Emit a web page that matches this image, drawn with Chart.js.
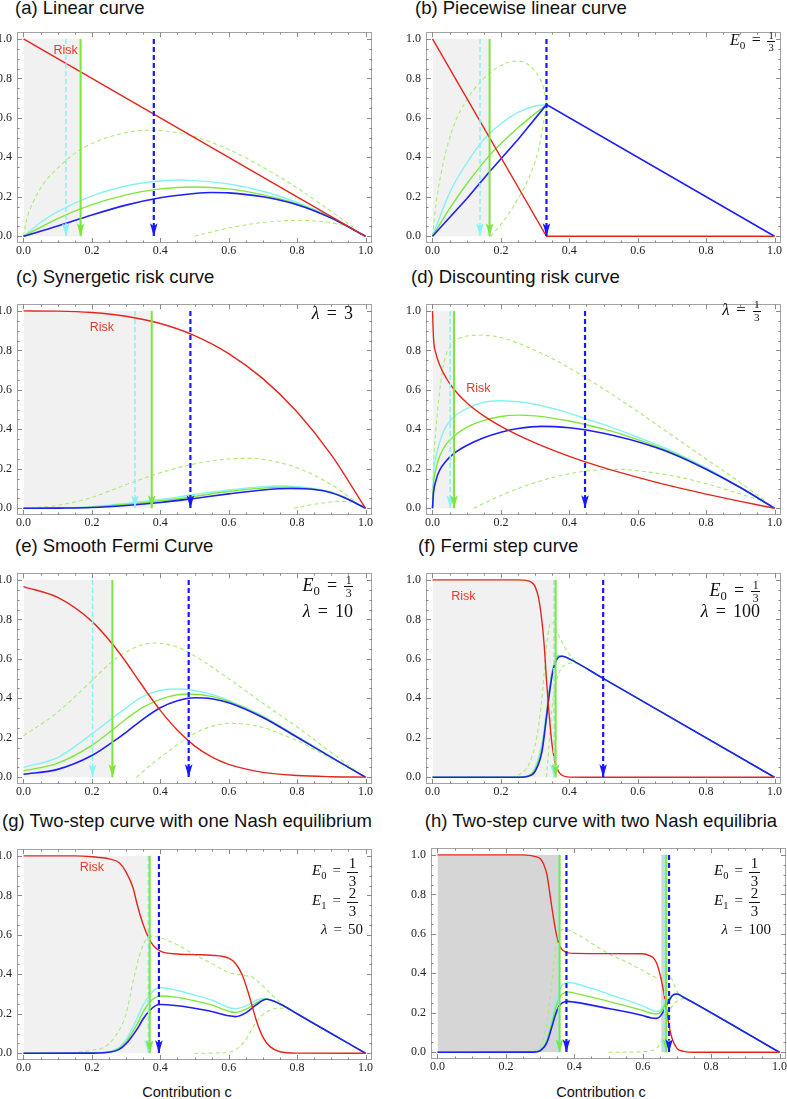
<!DOCTYPE html>
<html>
<head>
<meta charset="utf-8">
<script src="https://cdn.jsdelivr.net/npm/chart.js@4.4.1/dist/chart.umd.min.js"></script>
<style>
body{margin:0;width:787px;height:1099px;position:relative;background:#fff;overflow:hidden;font-family:"Liberation Sans",Arial,sans-serif}
canvas{position:absolute}
.title{position:absolute;font-size:18.5px;line-height:20px;color:#111;white-space:nowrap}
.xlab{position:absolute;font-size:14.5px;line-height:16px;color:#111;width:200px;text-align:center}
.note{position:absolute;font-family:"Liberation Serif","DejaVu Serif",serif;color:#111;white-space:nowrap;line-height:1}
.sb{font-size:.7em;position:relative;top:.3em}
.eq{margin:0 .4em}
.fr{display:inline-flex;flex-direction:column;align-items:center;vertical-align:middle;font-size:.66em;line-height:1.05}
.fr>span:last-child{border-top:1px solid #111;padding:0 .12em}
.fr.big{font-size:1em;line-height:1.1}
</style>
</head>
<body>
<div class="title" style="left:15px;top:-2px">(a) Linear curve</div>
<div class="title" style="left:415px;top:-2px">(b) Piecewise linear curve</div>
<div class="title" style="left:16px;top:267px">(c) Synergetic risk curve</div>
<div class="title" style="left:411px;top:267px">(d) Discounting risk curve</div>
<div class="title" style="left:15px;top:536px">(e) Smooth Fermi Curve</div>
<div class="title" style="left:418px;top:536px">(f) Fermi step curve</div>
<div class="title" style="left:-13px;width:400px;text-align:center;top:811px">(g) Two-step curve with one Nash equilibrium</div>
<div class="title" style="left:401px;width:400px;text-align:center;top:811px">(h) Two-step curve with two Nash equilibria</div>
<div class="xlab" style="left:87px;top:1084px">Contribution c</div>
<div class="xlab" style="left:501px;top:1084px">Contribution c</div>

<canvas id="ca" width="384" height="241" style="left:-9px;top:20px"></canvas>
<canvas id="cb" width="384" height="241" style="left:400px;top:20px"></canvas>
<canvas id="cc" width="384" height="241" style="left:-9px;top:292px"></canvas>
<canvas id="cd" width="384" height="241" style="left:400px;top:292px"></canvas>
<canvas id="ce" width="384" height="241" style="left:-9px;top:561px"></canvas>
<canvas id="cf" width="384" height="241" style="left:400px;top:561px"></canvas>
<canvas id="cg" width="384" height="241" style="left:-9px;top:837px"></canvas>
<canvas id="ch" width="384" height="241" style="left:405px;top:836px"></canvas>

<div class="note" style="right:12px;top:30px;font-size:16px"><i>E</i><span class="sb">0</span><span class="eq">=</span><span class="fr"><span>1</span><span>3</span></span></div>
<div class="note" style="right:434px;top:304px;font-size:18px"><i>λ</i><span class="eq">=</span>3</div>
<div class="note" style="right:26px;top:299px;font-size:17px"><i>λ</i><span class="eq">=</span><span class="fr"><span>1</span><span>3</span></span></div>
<div class="note" style="right:434px;top:574px;font-size:18px"><i>E</i><span class="sb">0</span><span class="eq">=</span><span class="fr"><span>1</span><span>3</span></span></div>
<div class="note" style="right:434px;top:602px;font-size:18px"><i>λ</i><span class="eq">=</span>10</div>
<div class="note" style="right:27px;top:579px;font-size:18px"><i>E</i><span class="sb">0</span><span class="eq">=</span><span class="fr"><span>1</span><span>3</span></span></div>
<div class="note" style="right:27px;top:602px;font-size:18px"><i>λ</i><span class="eq">=</span>100</div>
<div class="note" style="right:429px;top:855px;font-size:15px"><i>E</i><span class="sb">0</span><span class="eq">=</span><span class="fr big"><span>1</span><span>3</span></span></div>
<div class="note" style="right:429px;top:885px;font-size:15px"><i>E</i><span class="sb">1</span><span class="eq">=</span><span class="fr big"><span>2</span><span>3</span></span></div>
<div class="note" style="right:424px;top:922px;font-size:15px"><i>λ</i><span class="eq">=</span>50</div>
<div class="note" style="right:27px;top:855px;font-size:15px"><i>E</i><span class="sb">0</span><span class="eq">=</span><span class="fr big"><span>1</span><span>3</span></span></div>
<div class="note" style="right:27px;top:885px;font-size:15px"><i>E</i><span class="sb">1</span><span class="eq">=</span><span class="fr big"><span>2</span><span>3</span></span></div>
<div class="note" style="right:16px;top:922px;font-size:15px"><i>λ</i><span class="eq">=</span>100</div>

<script>
const tickLabels = [0, 0.2, 0.4, 0.6, 0.8, 1.0];

// (a) linear curve
const aRisk = [[0,1],[1,0]];
const aCyan = [[0,0],[0.05,0.07],[0.1,0.125],[0.2,0.205],[0.3,0.255],[0.4,0.28],[0.45,0.285],[0.5,0.282],[0.6,0.265],[0.7,0.228],[0.8,0.172],[0.9,0.097],[1,0]];
const aGreen = [[0,0],[0.1,0.09],[0.2,0.16],[0.3,0.21],[0.4,0.24],[0.5,0.25],[0.6,0.24],[0.7,0.21],[0.8,0.165],[0.9,0.093],[1,0]];
const aBlue = [[0,0],[0.1,0.052],[0.2,0.108],[0.3,0.158],[0.4,0.195],[0.5,0.217],[0.55,0.222],[0.6,0.22],[0.7,0.2],[0.8,0.16],[0.9,0.092],[1,0]];
const aDashHi = [[0,0],[0.01,0.09],[0.03,0.18],[0.06,0.27],[0.1,0.345],[0.15,0.42],[0.2,0.47],[0.3,0.525],[0.37,0.538],[0.45,0.525],[0.5,0.505],[0.6,0.44],[0.7,0.35],[0.8,0.245],[0.9,0.125],[0.965,0.045]];
const aDashLo = [[0.5,0],[0.55,0.022],[0.6,0.042],[0.7,0.07],[0.8,0.08],[0.86,0.077],[0.9,0.068],[0.965,0.045]];
const aArrows = [0.124, 0.167, 0.381];
const aShade = [[0, 0.167]];

// (b) piecewise linear curve
const bRisk = [[0,1],[0.3333,0],[1,0]];
const bCyan = [[0,0],[0.05,0.22],[0.1,0.37],[0.15,0.49],[0.2,0.57],[0.25,0.628],[0.3,0.66],[0.3333,0.667]];
const bGreen = [[0,0],[0.05,0.14],[0.1,0.265],[0.1667,0.41],[0.25,0.55],[0.3333,0.667]];
const bBlue = [[0,0],[0.1,0.19],[0.1667,0.327],[0.25,0.49],[0.3333,0.667],[1,0]];
const bDashHi = [[0,0],[0.01,0.16],[0.03,0.36],[0.06,0.55],[0.1,0.69],[0.15,0.8],[0.2,0.865],[0.24,0.887],[0.28,0.87],[0.31,0.81],[0.325,0.75],[0.3333,0.67]];
const bDashLo = [[0.17,0],[0.2,0.06],[0.25,0.19],[0.29,0.33],[0.31,0.44],[0.326,0.59],[0.3333,0.66]];
const bArrows = [0.139, 0.167, 0.3333];
const bShade = [[0, 0.167]];

// (c) synergetic risk curve
const cRisk = [[0,1],[0.1,0.999],[0.2,0.992],[0.3,0.973],[0.4,0.936],[0.5,0.875],[0.6,0.784],[0.7,0.657],[0.8,0.488],[0.9,0.271],[1,0]];
const cCyan = [[0,0],[0.1,0.001],[0.2,0.008],[0.3,0.025],[0.4,0.045],[0.5,0.07],[0.6,0.093],[0.7,0.11],[0.75,0.113],[0.8,0.11],[0.85,0.1],[0.9,0.082],[0.95,0.047],[1,0]];
const cGreen = [[0,0],[0.1,0.001],[0.2,0.006],[0.3,0.02],[0.4,0.038],[0.5,0.06],[0.6,0.085],[0.7,0.102],[0.77,0.107],[0.85,0.097],[0.9,0.08],[0.95,0.046],[1,0]];
const cBlue = [[0,0],[0.1,0.001],[0.2,0.004],[0.3,0.014],[0.4,0.029],[0.5,0.05],[0.6,0.073],[0.7,0.093],[0.78,0.1],[0.85,0.095],[0.9,0.079],[0.95,0.045],[1,0]];
const cDashHi = [[0,0],[0.1,0.015],[0.2,0.055],[0.3,0.12],[0.4,0.18],[0.5,0.225],[0.6,0.25],[0.65,0.253],[0.7,0.248],[0.8,0.205],[0.9,0.12],[0.97,0.035]];
const cDashLo = [[0.79,0],[0.85,0.02],[0.9,0.032],[0.93,0.035],[0.97,0.032]];
const cArrows = [0.326, 0.375, 0.488];
const cShade = [[0, 0.375]];

// (d) discounting risk curve
const dRisk = [[0,1],[0.003,0.86],[0.01,0.785],[0.02,0.73],[0.04,0.66],[0.063,0.602],[0.1,0.535],[0.15,0.468],[0.2,0.415],[0.3,0.331],[0.4,0.263],[0.5,0.206],[0.6,0.157],[0.7,0.112],[0.8,0.072],[0.9,0.035],[1,0]];
const dCyan = [[0,0],[0.003,0.17],[0.01,0.26],[0.02,0.33],[0.035,0.4],[0.052,0.445],[0.075,0.48],[0.1,0.505],[0.15,0.537],[0.19,0.545],[0.25,0.54],[0.3,0.527],[0.4,0.482],[0.45,0.452],[0.5,0.425],[0.6,0.36],[0.7,0.29],[0.8,0.205],[0.9,0.107],[1,0]];
const dGreen = [[0,0],[0.003,0.12],[0.01,0.2],[0.02,0.26],[0.04,0.325],[0.063,0.365],[0.1,0.41],[0.15,0.445],[0.2,0.465],[0.25,0.472],[0.3,0.468],[0.4,0.442],[0.45,0.423],[0.5,0.402],[0.6,0.348],[0.7,0.283],[0.8,0.2],[0.9,0.105],[1,0]];
const dBlue = [[0,0],[0.003,0.08],[0.01,0.14],[0.02,0.19],[0.04,0.24],[0.063,0.278],[0.1,0.318],[0.15,0.357],[0.2,0.385],[0.25,0.404],[0.32,0.415],[0.4,0.408],[0.45,0.397],[0.5,0.38],[0.6,0.337],[0.7,0.278],[0.8,0.198],[0.9,0.105],[1,0]];
const dDashHi = [[0,0],[0.003,0.22],[0.01,0.4],[0.02,0.58],[0.035,0.75],[0.052,0.82],[0.08,0.862],[0.14,0.877],[0.2,0.865],[0.3,0.8],[0.4,0.712],[0.45,0.66],[0.5,0.605],[0.6,0.49],[0.7,0.37],[0.8,0.25],[0.9,0.13],[0.97,0.04]];
const dDashLo = [[0.12,0],[0.15,0.025],[0.2,0.065],[0.3,0.13],[0.4,0.175],[0.5,0.196],[0.55,0.197],[0.6,0.19],[0.7,0.165],[0.8,0.125],[0.9,0.072],[0.97,0.035]];
const dArrows = [0.052, 0.063, 0.446];
const dShade = [[0, 0.063]];

// (e) smooth Fermi curve
const eRisk = [[0,0.966],[0.1,0.911],[0.2,0.79],[0.26,0.675],[0.3,0.583],[0.333,0.5],[0.36,0.433],[0.4,0.339],[0.45,0.238],[0.5,0.159],[0.55,0.103],[0.6,0.065],[0.7,0.025],[0.8,0.009],[0.9,0.003],[1,0.001]];
const eCyan = [[0,0.05],[0.1,0.1],[0.2,0.22],[0.26,0.3],[0.3,0.352],[0.35,0.41],[0.4,0.44],[0.45,0.447],[0.5,0.44],[0.55,0.42],[0.6,0.39],[0.7,0.31],[0.8,0.207],[0.9,0.103],[1,0]];
const eGreen = [[0,0.033],[0.1,0.072],[0.2,0.162],[0.26,0.24],[0.3,0.295],[0.35,0.355],[0.4,0.395],[0.45,0.418],[0.48,0.422],[0.55,0.41],[0.6,0.385],[0.7,0.308],[0.8,0.205],[0.9,0.102],[1,0]];
const eBlue = [[0,0.015],[0.1,0.04],[0.2,0.11],[0.26,0.178],[0.3,0.228],[0.35,0.295],[0.4,0.352],[0.45,0.388],[0.5,0.403],[0.55,0.398],[0.6,0.378],[0.7,0.303],[0.8,0.203],[0.9,0.101],[1,0]];
const eDashHi = [[0,0.21],[0.1,0.33],[0.2,0.49],[0.26,0.588],[0.3,0.635],[0.35,0.672],[0.385,0.68],[0.45,0.66],[0.5,0.615],[0.6,0.5],[0.7,0.375],[0.8,0.255],[0.9,0.125],[0.97,0.035]];
const eDashLo = [[0.33,0],[0.37,0.06],[0.4,0.1],[0.45,0.165],[0.5,0.222],[0.55,0.258],[0.6,0.273],[0.65,0.27],[0.7,0.252],[0.8,0.185],[0.9,0.095],[0.97,0.035]];
const eArrows = [0.202, 0.26, 0.483];
const eShade = [[0, 0.26]];

// (f) Fermi step curve
const fRisk = [[0,1],[0.25,1],[0.28,0.995],[0.29,0.987],[0.3,0.966],[0.31,0.91],[0.32,0.79],[0.327,0.66],[0.333,0.5],[0.34,0.34],[0.35,0.16],[0.36,0.065],[0.37,0.025],[0.38,0.009],[0.4,0.001],[0.5,0],[1,0]];
const fCyan = [[0,0],[0.25,0.001],[0.28,0.008],[0.3,0.05],[0.32,0.17],[0.333,0.33],[0.34,0.43],[0.35,0.54],[0.36,0.6],[0.37,0.618],[0.38,0.615],[0.4,0.6],[0.5,0.5],[1,0]];
const fGreen = [[0,0],[0.25,0.001],[0.28,0.007],[0.3,0.04],[0.32,0.15],[0.333,0.31],[0.34,0.415],[0.35,0.53],[0.36,0.595],[0.37,0.615],[0.38,0.614],[0.4,0.6],[0.5,0.5],[1,0]];
const fBlue = [[0,0],[0.25,0],[0.28,0.005],[0.3,0.03],[0.32,0.13],[0.333,0.3],[0.34,0.4],[0.35,0.52],[0.36,0.585],[0.37,0.61],[0.38,0.613],[0.4,0.6],[0.5,0.5],[1,0]];
const fDashHi = [[0.23,0],[0.26,0.02],[0.28,0.06],[0.3,0.16],[0.31,0.26],[0.32,0.4],[0.33,0.6],[0.34,0.75],[0.348,0.787],[0.356,0.775],[0.365,0.735],[0.38,0.68],[0.39,0.65],[0.41,0.6],[0.43,0.572]];
const fDashLo = [[0.333,0],[0.338,0.1],[0.343,0.22],[0.35,0.36],[0.36,0.47],[0.37,0.53],[0.38,0.56],[0.395,0.575],[0.41,0.58],[0.43,0.57]];
const fArrows = [0.355, 0.36, 0.499];
const fShade = [[0, 0.358]];

// (g) two-step curve, one Nash equilibrium
const gRisk = [[0,1],[0.15,1],[0.2,0.996],[0.25,0.985],[0.28,0.965],[0.3,0.918],[0.32,0.84],[0.333,0.75],[0.35,0.652],[0.367,0.58],[0.38,0.545],[0.4,0.518],[0.45,0.503],[0.5,0.5],[0.55,0.497],[0.6,0.482],[0.62,0.455],[0.64,0.395],[0.667,0.25],[0.68,0.17],[0.7,0.082],[0.72,0.035],[0.75,0.008],[0.8,0.001],[1,0]];
const gCyan = [[0,0],[0.2,0.001],[0.25,0.008],[0.28,0.03],[0.3,0.07],[0.333,0.18],[0.35,0.245],[0.367,0.29],[0.385,0.325],[0.4,0.333],[0.45,0.318],[0.5,0.295],[0.55,0.27],[0.6,0.232],[0.62,0.226],[0.65,0.24],[0.68,0.268],[0.7,0.278],[0.72,0.272],[0.75,0.25],[0.8,0.2],[0.9,0.1],[1,0]];
const gGreen = [[0,0],[0.2,0.001],[0.25,0.006],[0.28,0.025],[0.3,0.058],[0.333,0.15],[0.35,0.21],[0.367,0.255],[0.385,0.282],[0.4,0.29],[0.45,0.283],[0.5,0.266],[0.55,0.245],[0.6,0.213],[0.62,0.207],[0.65,0.222],[0.68,0.255],[0.71,0.275],[0.75,0.25],[0.8,0.2],[0.9,0.1],[1,0]];
const gBlue = [[0,0],[0.2,0.001],[0.25,0.005],[0.28,0.02],[0.3,0.048],[0.333,0.125],[0.35,0.175],[0.367,0.213],[0.385,0.24],[0.4,0.247],[0.45,0.241],[0.5,0.228],[0.55,0.212],[0.6,0.19],[0.62,0.186],[0.65,0.205],[0.68,0.245],[0.71,0.274],[0.75,0.25],[0.8,0.2],[0.9,0.1],[1,0]];
const gDashHi = [[0.12,0],[0.2,0.015],[0.24,0.035],[0.27,0.09],[0.3,0.2],[0.32,0.36],[0.34,0.5],[0.36,0.58],[0.38,0.592],[0.4,0.585],[0.45,0.55],[0.5,0.5],[0.55,0.455],[0.6,0.41],[0.64,0.395],[0.67,0.385],[0.7,0.34],[0.73,0.29],[0.76,0.245],[0.79,0.212]];
const gDashLo = [[0.5,0],[0.6,0.005],[0.63,0.03],[0.65,0.07],[0.67,0.13],[0.69,0.18],[0.72,0.218],[0.75,0.229],[0.78,0.222],[0.8,0.2]];
const gArrows = [0.365, 0.369, 0.396];
const gShade = [[0, 0.367]];

// (h) two-step curve, two Nash equilibria
const hRisk = [[0,1],[0.25,1],[0.29,0.99],[0.3,0.982],[0.31,0.955],[0.32,0.9],[0.333,0.75],[0.345,0.62],[0.355,0.55],[0.37,0.512],[0.4,0.501],[0.5,0.5],[0.6,0.499],[0.62,0.49],[0.63,0.48],[0.64,0.455],[0.65,0.4],[0.667,0.25],[0.675,0.155],[0.685,0.075],[0.7,0.02],[0.72,0.005],[0.75,0],[1,0]];
const hCyan = [[0,0],[0.28,0.001],[0.3,0.012],[0.32,0.07],[0.333,0.16],[0.345,0.25],[0.355,0.31],[0.365,0.34],[0.38,0.355],[0.4,0.35],[0.5,0.295],[0.6,0.235],[0.625,0.215],[0.64,0.207],[0.65,0.212],[0.66,0.235],[0.675,0.27],[0.69,0.292],[0.7,0.295],[0.72,0.28],[0.75,0.25],[1,0]];
const hGreen = [[0,0],[0.28,0.001],[0.3,0.01],[0.32,0.06],[0.333,0.14],[0.345,0.22],[0.355,0.27],[0.365,0.295],[0.38,0.306],[0.4,0.3],[0.5,0.258],[0.6,0.212],[0.625,0.198],[0.64,0.194],[0.65,0.2],[0.66,0.225],[0.675,0.265],[0.69,0.29],[0.7,0.295],[0.72,0.28],[0.75,0.25],[1,0]];
const hBlue = [[0,0],[0.28,0.001],[0.3,0.008],[0.32,0.05],[0.333,0.12],[0.345,0.19],[0.355,0.232],[0.365,0.25],[0.38,0.258],[0.4,0.254],[0.5,0.222],[0.6,0.186],[0.625,0.174],[0.64,0.172],[0.65,0.18],[0.66,0.205],[0.675,0.255],[0.69,0.292],[0.7,0.295],[0.72,0.278],[0.75,0.25],[1,0]];
const hDashHi = [[0.24,0],[0.28,0.01],[0.3,0.03],[0.32,0.15],[0.333,0.33],[0.345,0.52],[0.355,0.6],[0.37,0.625],[0.4,0.605],[0.5,0.5],[0.55,0.46],[0.6,0.415],[0.63,0.385],[0.65,0.375],[0.66,0.378],[0.672,0.395],[0.685,0.37],[0.7,0.31],[0.72,0.275],[0.74,0.26]];
const hDashLo = [[0.5,0],[0.6,0.003],[0.64,0.02],[0.655,0.06],[0.667,0.14],[0.68,0.215],[0.7,0.258],[0.72,0.272],[0.74,0.26]];
const hArrows1 = [0.354, 0.357, 0.377];
const hArrows2 = [0.664, 0.669, 0.677];
const hShade = [[0, 0.357], [0.654, 0.671]];

const RED = '#e3261c', CYAN = '#86f2f2', GREEN = '#7ee63c', BLUE = '#1f1ff5', DASH = '#a9eb74';
const arrowColors = ['#88f3f3', '#7de639', '#1818ff'];
const arrowWidths = [1.6, 2, 2.2];
const arrowDashes = [[5, 3], [], [5, 3]];

const pts = arr => arr.map(([x, y]) => ({x, y}));

function curve(arr, color, width, dash, order, sharp) {
  return {
    data: pts(arr), borderColor: color, borderWidth: width, borderDash: dash,
    pointRadius: 0, fill: false, order: order,
    cubicInterpolationMode: sharp ? 'default' : 'monotone', tension: 0
  };
}

const decoPlugin = {
  id: 'deco',
  afterDatasetsDraw(chart, args, opts) {
    const {ctx, chartArea: a, scales: {x, y}} = chart;
    ctx.save();
    // arrowheads
    chart.data.datasets.forEach((ds, i) => {
      if (!ds.arrow) return;
      const el = chart.getDatasetMeta(i).data;
      const tip = el[el.length - 1];
      ctx.fillStyle = ds.borderColor;
      ctx.beginPath();
      ctx.moveTo(tip.x, tip.y);
      ctx.lineTo(tip.x - 3.8, tip.y - 13);
      ctx.lineTo(tip.x, tip.y - 10);
      ctx.lineTo(tip.x + 3.8, tip.y - 13);
      ctx.closePath();
      ctx.fill();
    });
    // risk label
    if (opts.riskAt) {
      ctx.fillStyle = '#e8392c';
      ctx.font = '12.5px "Liberation Sans", Arial, sans-serif';
      ctx.textAlign = 'center';
      ctx.textBaseline = 'middle';
      ctx.fillText('Risk', x.getPixelForValue(opts.riskAt[0]), y.getPixelForValue(opts.riskAt[1]));
    }
    // frame with inward ticks on all sides
    ctx.strokeStyle = '#a3a3a3';
    ctx.lineWidth = 1;
    ctx.strokeRect(Math.round(a.left) + 0.5, Math.round(a.top) + 0.5, Math.round(a.width) - 1, Math.round(a.height) - 1);
    ctx.strokeStyle = '#8a8a8a';
    ctx.beginPath();
    for (let i = 0; i <= 20; i++) {
      const v = i * 0.05;
      const len = i % 4 === 0 ? 5 : 2.5;
      const px = Math.round(x.getPixelForValue(v)) + 0.5;
      ctx.moveTo(px, a.bottom); ctx.lineTo(px, a.bottom - len);
      ctx.moveTo(px, a.top); ctx.lineTo(px, a.top + len);
      const py = Math.round(y.getPixelForValue(v)) + 0.5;
      ctx.moveTo(a.left, py); ctx.lineTo(a.left + len, py);
      ctx.moveTo(a.right, py); ctx.lineTo(a.right - len, py);
    }
    ctx.stroke();
    ctx.restore();
  }
};

function drawPanel(id, p) {
  const datasets = [];
  p.shade.forEach(([s0, s1]) => datasets.push({
    data: pts([[s0, 1], [s1, 1]]), fill: 'origin', backgroundColor: p.shadeColor || '#f1f1f1',
    borderWidth: 0, pointRadius: 0, order: 20, tension: 0
  }));
  p.dashed.forEach(d => datasets.push(curve(d, DASH, 1.1, [4, 3], 15)));
  datasets.push(curve(p.cyan, CYAN, 1.4, [], 14));
  datasets.push(curve(p.green, GREEN, 1.4, [], 13));
  datasets.push(curve(p.blue, BLUE, 1.6, [], 12, p.sharp));
  datasets.push(curve(p.risk, RED, 1.4, [], 11, p.sharp));
  p.arrows.forEach(set => set.forEach((ax, i) => datasets.push({
    data: pts([[ax, 1], [ax, 0]]), borderColor: arrowColors[i], borderWidth: arrowWidths[i],
    borderDash: arrowDashes[i], pointRadius: 0, fill: false, tension: 0, order: 3 - i, arrow: true
  })));

  new Chart(document.getElementById(id), {
    type: 'line',
    data: {datasets},
    options: {
      responsive: false,
      animation: false,
      events: [],
      layout: {padding: {left: 0, top: 3, right: 3, bottom: 2}},
      plugins: {legend: {display: false}, tooltip: {enabled: false}, deco: {riskAt: p.riskAt}},
      scales: {
        x: {
          type: 'linear', min: -0.019, max: 1.019,
          afterBuildTicks: s => { s.ticks = tickLabels.map(v => ({value: v})); },
          afterFit: s => { s.height = 16; },
          grid: {display: false, drawTicks: false}, border: {display: false},
          ticks: {padding: 1, maxRotation: 0, autoSkip: false, color: '#222',
            font: {family: '"Liberation Serif", "Times New Roman", serif', size: 12}, callback: v => v.toFixed(1)}
        },
        y: {
          type: 'linear', min: -0.034, max: 1.034,
          afterBuildTicks: s => { s.ticks = tickLabels.map(v => ({value: v})); },
          afterFit: s => { s.width = 26; },
          grid: {display: false, drawTicks: false}, border: {display: false},
          ticks: {padding: 5, autoSkip: false, color: '#222',
            font: {family: '"Liberation Serif", "Times New Roman", serif', size: 12}, callback: v => v.toFixed(1)}
        }
      }
    },
    plugins: [decoPlugin]
  });
}

drawPanel('ca', {risk: aRisk, cyan: aCyan, green: aGreen, blue: aBlue, dashed: [aDashHi, aDashLo], arrows: [aArrows], shade: aShade, riskAt: [0.123, 0.943]});
drawPanel('cb', {risk: bRisk, cyan: bCyan, green: bGreen, blue: bBlue, dashed: [bDashHi, bDashLo], arrows: [bArrows], shade: bShade, sharp: true});
drawPanel('cc', {risk: cRisk, cyan: cCyan, green: cGreen, blue: cBlue, dashed: [cDashHi, cDashLo], arrows: [cArrows], shade: cShade, riskAt: [0.229, 0.914]});
drawPanel('cd', {risk: dRisk, cyan: dCyan, green: dGreen, blue: dBlue, dashed: [dDashHi, dDashLo], arrows: [dArrows], shade: dShade, riskAt: [0.134, 0.607]});
drawPanel('ce', {risk: eRisk, cyan: eCyan, green: eGreen, blue: eBlue, dashed: [eDashHi, eDashLo], arrows: [eArrows], shade: eShade});
drawPanel('cf', {risk: fRisk, cyan: fCyan, green: fGreen, blue: fBlue, dashed: [fDashHi, fDashLo], arrows: [fArrows], shade: fShade, riskAt: [0.09, 0.916]});
drawPanel('cg', {risk: gRisk, cyan: gCyan, green: gGreen, blue: gBlue, dashed: [gDashHi, gDashLo], arrows: [gArrows], shade: gShade, riskAt: [0.2, 0.939]});
drawPanel('ch', {risk: hRisk, cyan: hCyan, green: hGreen, blue: hBlue, dashed: [hDashHi, hDashLo], arrows: [hArrows1, hArrows2], shade: hShade, shadeColor: '#d6d6d6'});
</script>
</body>
</html>
